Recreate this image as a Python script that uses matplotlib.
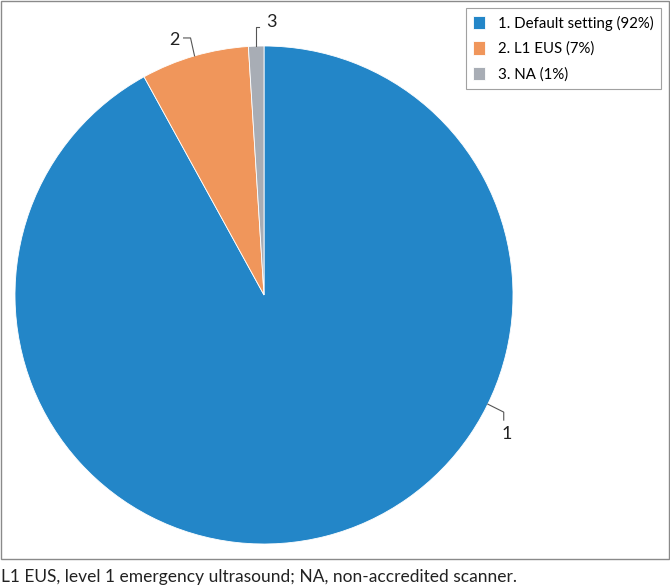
import numpy as np
import matplotlib
matplotlib.use("Agg")
from matplotlib import pyplot as plt
from matplotlib.patches import Rectangle

plt.rcParams['font.family'] = ['Lato', 'DejaVu Sans']

# data
labels = ["1", "2", "3"]
legend_labels = ["1. Default setting (92%)", "2. L1 EUS (7%)", "3. NA (1%)"]
values = [92, 7, 1]
colors = ["#2386c8", "#f0965b", "#a8adb5"]
caption = "L1 EUS, level 1 emergency ultrasound; NA, non-accredited scanner."

W, H = 670, 587
fig = plt.figure(figsize=(W / 100, H / 100), dpi=100)

# pie axes
cx, cy, r = 264, 295, 249
ax = fig.add_axes([(cx - r) / W, (H - cy - r) / H, 2 * r / W, 2 * r / H])
wedges, _ = ax.pie(values, colors=colors, startangle=90, counterclock=False,
                   wedgeprops=dict(edgecolor="white", linewidth=0.6))
ax.set_xlim(-1, 1)
ax.set_ylim(-1, 1)
ax.set_aspect("equal")
ax.axis("off")

# leader lines + labels
anchors = [-26.0, None, None]
for i, w in enumerate(wedges):
    if anchors[i] is None:
        a = np.deg2rad((w.theta1 + w.theta2) / 2)
    else:
        a = np.deg2rad(anchors[i])
    x0, y0 = np.cos(a), np.sin(a)
    if i == 0:
        pts = [(x0, y0), (x0 + 0.064, y0 - 0.032), (x0 + 0.064, y0 - 0.064)]
        tx, ty = x0 + 0.074, y0 - 0.118
    elif i == 1:
        pts = [(x0, y0), (x0 - 0.016, y0 + 0.072), (x0 - 0.044, y0 + 0.072)]
        tx, ty = x0 - 0.080, y0 + 0.062
    else:
        pts = [(x0, y0), (x0, y0 + 0.076), (x0 + 0.012, y0 + 0.076)]
        tx, ty = x0 + 0.062, y0 + 0.096
    xs, ys = zip(*pts)
    ax.plot(xs, ys, color="#555555", lw=0.8, clip_on=False)
    ax.text(tx, ty, labels[i], ha="center", va="center", fontsize=13, color="#222222")

# legend
fig.legend(wedges, legend_labels, loc="upper right",
           bbox_to_anchor=(661 / W, 1 - 8 / H), frameon=True, fancybox=False,
           edgecolor="#8a8a8a", fontsize=10.8, handlelength=0.8, handleheight=1.0,
           borderpad=0.5, labelspacing=0.72, handletextpad=0.85, borderaxespad=0)
fig.legends[0].get_frame().set_linewidth(0.8)

# outer border
fig.patches.append(Rectangle((0.5 / W, 1 - 559 / H), (W - 1.5) / W, 558.5 / H,
                             transform=fig.transFigure, fill=False,
                             edgecolor="#8a8a8a", lw=1))

fig.text(1 / W, 1 - 577 / H, caption, ha="left", va="center", fontsize=12.5,
         color="#222222")

fig.savefig("out.png", dpi=100)
